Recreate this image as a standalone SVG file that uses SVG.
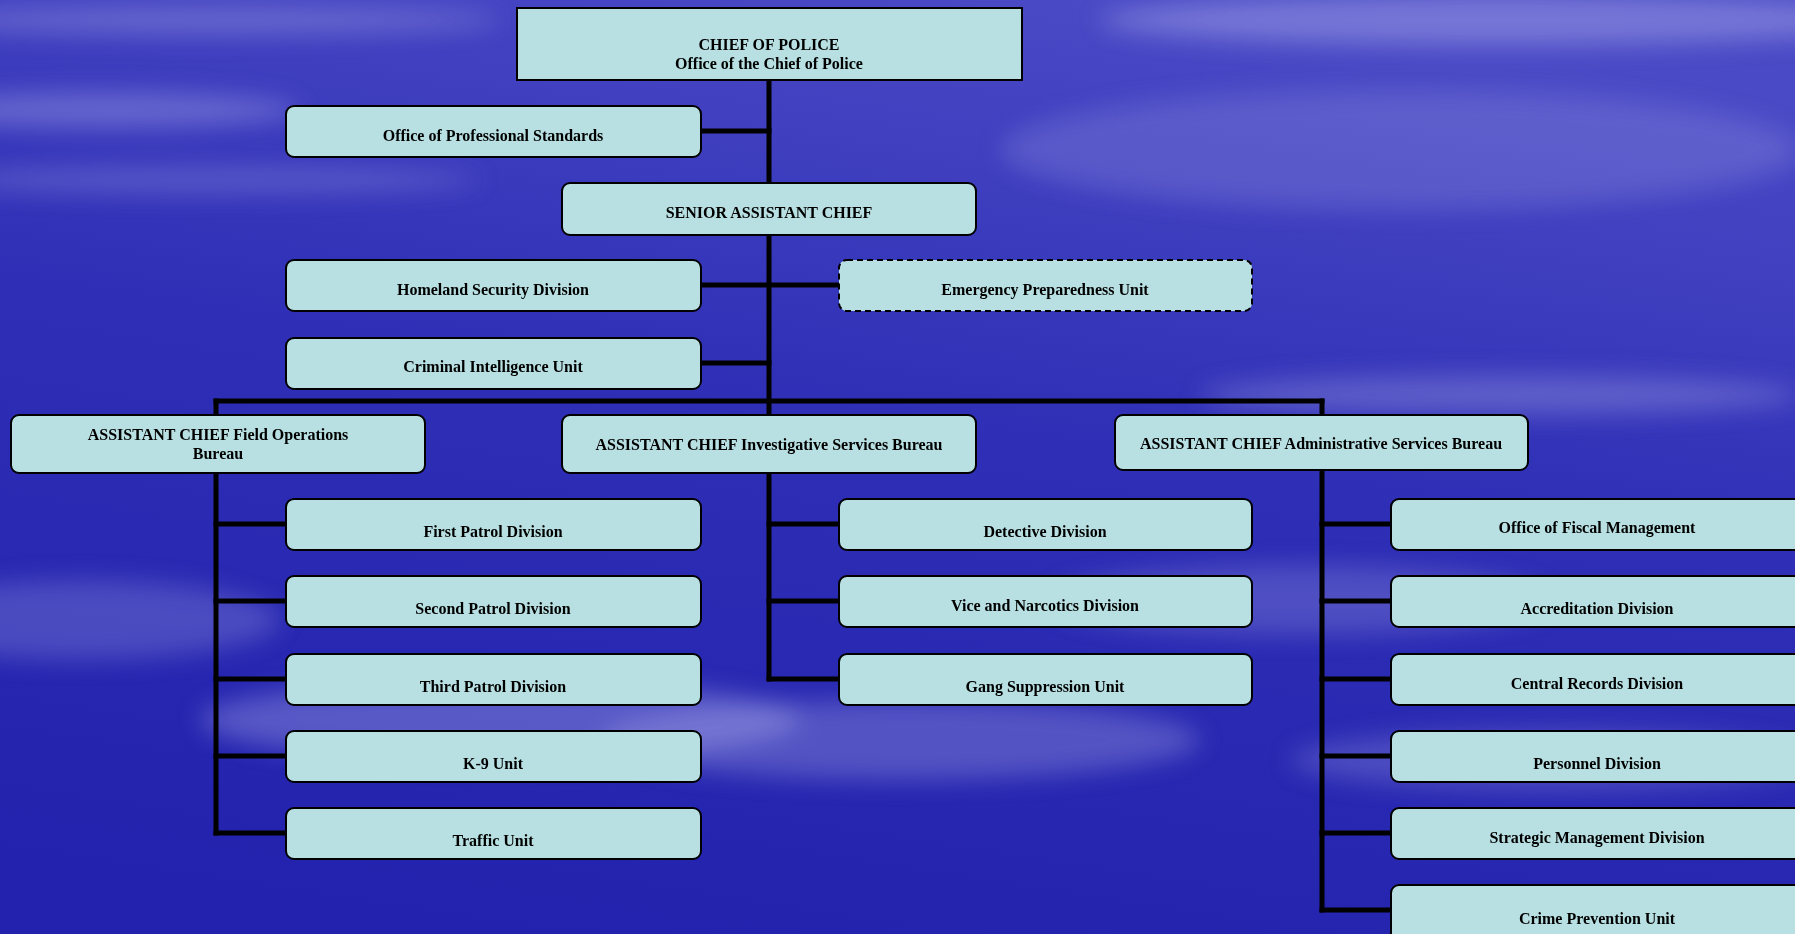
<svg xmlns="http://www.w3.org/2000/svg" width="1795" height="934" viewBox="0 0 1795 934">
<defs>
<linearGradient id="bg" x1="0.6" y1="0" x2="0.3" y2="1">
<stop offset="0" stop-color="#4a4ac6"/>
<stop offset="0.45" stop-color="#2e2eb6"/>
<stop offset="1" stop-color="#2222ae"/>
</linearGradient>
<filter id="blur" x="-50%" y="-50%" width="200%" height="200%"><feGaussianBlur stdDeviation="12"/></filter>
<style>
.box{fill:#b8e0e2;stroke:#000;stroke-width:2}
.dash{fill:#b8e0e2;stroke:#000;stroke-width:2;stroke-dasharray:6 4}
.t{font-family:"Liberation Serif","Times New Roman",serif;font-weight:bold;font-size:16px;fill:#000;text-anchor:middle}
.c{stroke:#000;stroke-width:5;fill:none;stroke-linecap:square}
</style>
</defs>
<rect width="1795" height="934" fill="url(#bg)"/>
<g filter="url(#blur)" fill="#b8b8f0">
<ellipse cx="1500" cy="20" rx="400" ry="25" opacity="0.4"/>
<ellipse cx="1400" cy="150" rx="400" ry="60" opacity="0.2"/>
<ellipse cx="200" cy="20" rx="300" ry="15" opacity="0.3"/>
<ellipse cx="100" cy="110" rx="200" ry="18" opacity="0.35"/>
<ellipse cx="200" cy="180" rx="280" ry="14" opacity="0.25"/>
<ellipse cx="1500" cy="395" rx="300" ry="20" opacity="0.3"/>
<ellipse cx="80" cy="620" rx="200" ry="40" opacity="0.25"/>
<ellipse cx="500" cy="720" rx="300" ry="40" opacity="0.35"/>
<ellipse cx="900" cy="740" rx="300" ry="40" opacity="0.3"/>
<ellipse cx="1300" cy="600" rx="250" ry="35" opacity="0.25"/>
<ellipse cx="1550" cy="760" rx="260" ry="30" opacity="0.25"/>
</g>
<g id="connectors">
<line class="c" x1="769" y1="80" x2="769" y2="414"/>
<line class="c" x1="701" y1="131" x2="769" y2="131"/>
<line class="c" x1="701" y1="285" x2="839" y2="285"/>
<line class="c" x1="701" y1="363" x2="769" y2="363"/>
<line class="c" x1="216" y1="401" x2="1322" y2="401"/>
<line class="c" x1="216" y1="401" x2="216" y2="414"/>
<line class="c" x1="1322" y1="401" x2="1322" y2="414"/>
<line class="c" x1="216" y1="473" x2="216" y2="833"/>
<line class="c" x1="216" y1="524" x2="286" y2="524"/>
<line class="c" x1="216" y1="601" x2="286" y2="601"/>
<line class="c" x1="216" y1="679" x2="286" y2="679"/>
<line class="c" x1="216" y1="756" x2="286" y2="756"/>
<line class="c" x1="216" y1="833" x2="286" y2="833"/>
<line class="c" x1="769" y1="473" x2="769" y2="679"/>
<line class="c" x1="769" y1="524" x2="839" y2="524"/>
<line class="c" x1="769" y1="601" x2="839" y2="601"/>
<line class="c" x1="769" y1="679" x2="839" y2="679"/>
<line class="c" x1="1322" y1="470" x2="1322" y2="910"/>
<line class="c" x1="1322" y1="524" x2="1391" y2="524"/>
<line class="c" x1="1322" y1="601" x2="1391" y2="601"/>
<line class="c" x1="1322" y1="679" x2="1391" y2="679"/>
<line class="c" x1="1322" y1="756" x2="1391" y2="756"/>
<line class="c" x1="1322" y1="833" x2="1391" y2="833"/>
<line class="c" x1="1322" y1="910" x2="1391" y2="910"/>
</g>
<g id="chief"><rect class="box" x="517" y="8" width="505" height="72"/><text class="t" x="769" y="50">CHIEF OF POLICE</text><text class="t" x="769" y="69">Office of the Chief of Police</text></g>
<g id="ops"><rect class="box" x="286" y="106" width="415" height="51" rx="8"/><text class="t" x="493" y="141">Office of Professional Standards</text></g>
<g id="senior"><rect class="box" x="562" y="183" width="414" height="52" rx="8"/><text class="t" x="769" y="218">SENIOR ASSISTANT CHIEF</text></g>
<g id="homeland"><rect class="box" x="286" y="260" width="415" height="51" rx="8"/><text class="t" x="493" y="295">Homeland Security Division</text></g>
<g id="epu"><rect class="dash" x="839" y="260" width="413" height="51" rx="8"/><text class="t" x="1045" y="295">Emergency Preparedness Unit</text></g>
<g id="ciu"><rect class="box" x="286" y="338" width="415" height="51" rx="8"/><text class="t" x="493" y="372">Criminal Intelligence Unit</text></g>
<g id="acfield"><rect class="box" x="11" y="415" width="414" height="58" rx="8"/><text class="t" x="218" y="440">ASSISTANT CHIEF Field Operations</text><text class="t" x="218" y="459">Bureau</text></g>
<g id="acinv"><rect class="box" x="562" y="415" width="414" height="58" rx="8"/><text class="t" x="769" y="450">ASSISTANT CHIEF Investigative Services Bureau</text></g>
<g id="acadmin"><rect class="box" x="1115" y="415" width="413" height="55" rx="8"/><text class="t" x="1321" y="449">ASSISTANT CHIEF Administrative Services Bureau</text></g>
<g id="first"><rect class="box" x="286" y="499" width="415" height="51" rx="8"/><text class="t" x="493" y="537">First Patrol Division</text></g>
<g id="second"><rect class="box" x="286" y="576" width="415" height="51" rx="8"/><text class="t" x="493" y="614">Second Patrol Division</text></g>
<g id="third"><rect class="box" x="286" y="654" width="415" height="51" rx="8"/><text class="t" x="493" y="692">Third Patrol Division</text></g>
<g id="k9"><rect class="box" x="286" y="731" width="415" height="51" rx="8"/><text class="t" x="493" y="769">K-9 Unit</text></g>
<g id="traffic"><rect class="box" x="286" y="808" width="415" height="51" rx="8"/><text class="t" x="493" y="846">Traffic Unit</text></g>
<g id="detective"><rect class="box" x="839" y="499" width="413" height="51" rx="8"/><text class="t" x="1045" y="537">Detective Division</text></g>
<g id="vice"><rect class="box" x="839" y="576" width="413" height="51" rx="8"/><text class="t" x="1045" y="611">Vice and Narcotics Division</text></g>
<g id="gang"><rect class="box" x="839" y="654" width="413" height="51" rx="8"/><text class="t" x="1045" y="692">Gang Suppression Unit</text></g>
<g id="fiscal"><rect class="box" x="1391" y="499" width="415" height="51" rx="8"/><text class="t" x="1597" y="533">Office of Fiscal Management</text></g>
<g id="accred"><rect class="box" x="1391" y="576" width="415" height="51" rx="8"/><text class="t" x="1597" y="614">Accreditation Division</text></g>
<g id="records"><rect class="box" x="1391" y="654" width="415" height="51" rx="8"/><text class="t" x="1597" y="689">Central Records Division</text></g>
<g id="personnel"><rect class="box" x="1391" y="731" width="415" height="51" rx="8"/><text class="t" x="1597" y="769">Personnel Division</text></g>
<g id="strategic"><rect class="box" x="1391" y="808" width="415" height="51" rx="8"/><text class="t" x="1597" y="843">Strategic Management Division</text></g>
<g id="crime"><rect class="box" x="1391" y="885" width="415" height="60" rx="8"/><text class="t" x="1597" y="924">Crime Prevention Unit</text></g>
</svg>
